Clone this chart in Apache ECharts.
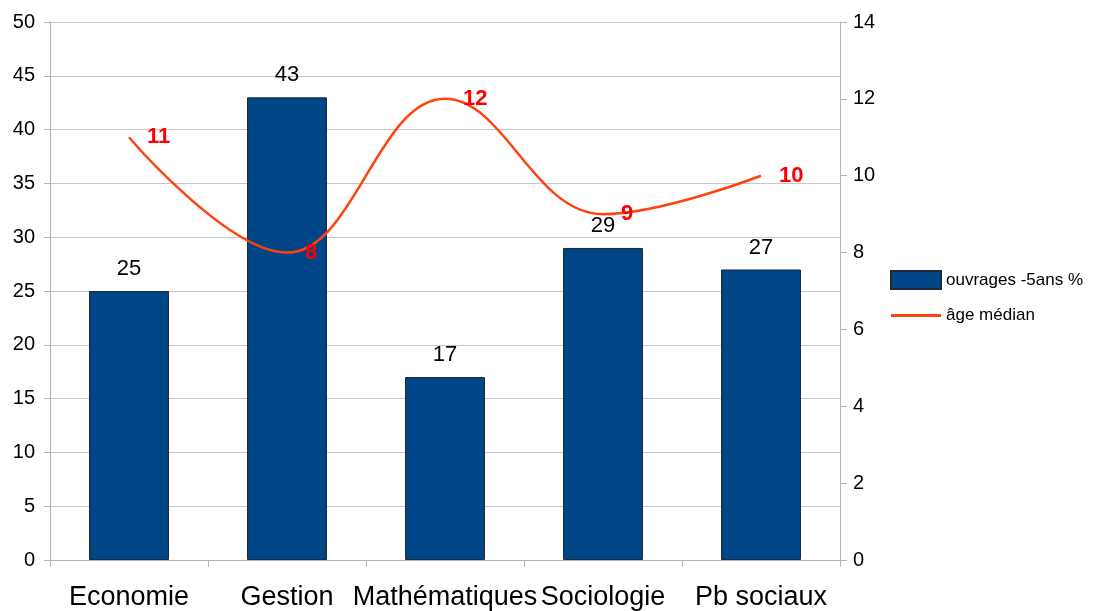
<!DOCTYPE html>
<html>
<head>
<meta charset="utf-8">
<script src="https://cdn.jsdelivr.net/npm/echarts@6/dist/echarts.min.js"></script>
<style>html,body{margin:0;padding:0;background:#fff}#c{width:1114px;height:611px}</style>
</head>
<body>
<div id="c"></div>
<script>
const categories = ['Economie', 'Gestion', 'Mathématiques', 'Sociologie', 'Pb sociaux'];
const ouvrages = [25, 43, 17, 29, 27];
const ageMedian = [11, 8, 12, 9, 10];

const chart = echarts.init(document.getElementById('c'));
const font = '"Liberation Sans", Arial, sans-serif';
chart.setOption({
  animation: false,
  textStyle: { fontFamily: font },
  grid: { left: 50, right: 274, top: 22, bottom: 49, containLabel: false },
  legend: {
    orient: 'vertical',
    left: 885,
    top: 265,
    itemWidth: 50,
    itemHeight: 18,
    itemGap: 17,
    textStyle: { fontFamily: font, fontSize: 17, color: '#000', padding: [22, 0, 0, 0] },
    data: [
      { name: 'ouvrages -5ans %', icon: 'rect' },
      { name: 'âge médian', icon: 'path://M0,0 L50,0 L50,3 L0,3 Z', itemStyle: { color: '#ff420e' } }
    ]
  },
  xAxis: {
    type: 'category',
    data: categories,
    axisLine: { lineStyle: { color: '#b3b3b3' } },
    axisTick: { show: true, length: 7, lineStyle: { color: '#b3b3b3' } },
    axisLabel: { fontSize: 27, color: '#000', margin: 24, interval: 0, fontFamily: font }
  },
  yAxis: [
    {
      type: 'value', min: 0, max: 50, interval: 5,
      axisLine: { show: true, lineStyle: { color: '#b3b3b3' } },
      axisTick: { show: true, length: 6, lineStyle: { color: '#b3b3b3' } },
      splitLine: { lineStyle: { color: '#c8c8c8' } },
      axisLabel: { fontSize: 20, color: '#000', margin: 15, fontFamily: font }
    },
    {
      type: 'value', min: 0, max: 14, interval: 2,
      axisLine: { show: true, lineStyle: { color: '#b3b3b3' } },
      axisTick: { show: true, length: 7, lineStyle: { color: '#b3b3b3' } },
      splitLine: { show: false },
      axisLabel: { fontSize: 20, color: '#000', margin: 13, fontFamily: font }
    }
  ],
  series: [
    {
      name: 'ouvrages -5ans %',
      type: 'bar',
      data: ouvrages,
      barWidth: 80,
      itemStyle: { color: '#004586', borderColor: '#1c2a3a', borderWidth: 1 },
      label: { show: true, position: 'top', distance: 11, fontSize: 22, color: '#000', fontFamily: font }
    },
    {
      name: 'âge médian',
      type: 'line',
      yAxisIndex: 1,
      data: ageMedian,
      smooth: 0.4,
      symbol: 'circle',
      symbolSize: 0,
      showSymbol: true,
      lineStyle: { color: '#ff420e', width: 2.5 },
      itemStyle: { color: '#ff420e' },
      label: { show: true, position: 'right', distance: 18, fontSize: 22, fontWeight: 'bold', color: '#ff0000', fontFamily: font }
    }
  ]
});
</script>
</body>
</html>
